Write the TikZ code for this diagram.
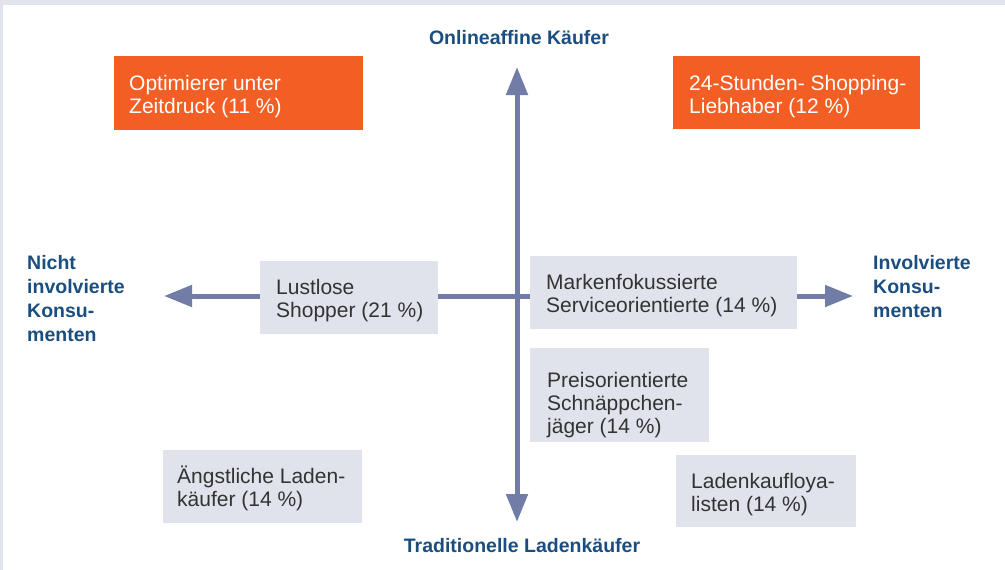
\documentclass[tikz,border=0pt]{standalone}
\usepackage{fontspec}
\setmainfont{Liberation Sans}
\usetikzlibrary{arrows.meta}
\definecolor{orng}{HTML}{F25E24}
\definecolor{boxgray}{HTML}{E0E3EB}
\definecolor{axiscol}{HTML}{717DA6}
\definecolor{lblue}{HTML}{1B4E80}
\definecolor{framegray}{HTML}{E1E4EC}
\definecolor{txtgray}{HTML}{333333}
\newcommand{\fl}{\rule{0pt}{20pt}}
\begin{document}
\begin{tikzpicture}[x=1pt,y=-1pt,
  axisline/.style={draw=axiscol, line width=5pt,
    {Triangle[length=28pt,width=21pt]}-{Triangle[length=28pt,width=21pt]}},
  segbox/.style={rectangle, draw=none, inner sep=0pt},
  graybox/.style={segbox, fill=boxgray},
  orangebox/.style={segbox, fill=orng},
  segtext/.style={anchor=north west, inner sep=0pt, align=left,
    font=\fontsize{21}{23}\selectfont},
  darktext/.style={segtext, text=txtgray},
  lighttext/.style={segtext, text=white},
  axislabel/.style={inner sep=0pt, text=lblue, font=\fontsize{19.5}{24}\selectfont\bfseries},
  sidelabel/.style={axislabel, anchor=north west, align=left}]
% canvas
\fill[framegray] (0,0) rectangle (1005,570);
\fill[white] (3,5) rectangle (1005,570);
\useasboundingbox (0,0) rectangle (1005,570);
% axes
\coordinate (north) at (517,67);
\coordinate (south) at (517,522);
\coordinate (west) at (164,296);
\coordinate (east) at (853,296);
\draw[axisline] (south) -- (north);
\draw[axisline] (west) -- (east);
% axis labels
\node[axislabel, anchor=base] (online) at (519,44) {Onlineaffine Käufer};
\node[axislabel, anchor=base] (trad) at (522,552) {Traditionelle Ladenkäufer};
\node[sidelabel] (nicht) at (27,249) {\fl Nicht\\involvierte\\Konsu-\\menten};
\node[sidelabel] (invol) at (873,249) {\fl Involvierte\\Konsu-\\menten};
% boxes
\node[orangebox, minimum width=249pt, minimum height=74pt] (opt) at (238.5,93) {};
\node[lighttext] (optT) at (129,70) {\fl Optimierer unter\\Zeitdruck (11 \%)};
\node[orangebox, minimum width=247pt, minimum height=73pt] (stu) at (796.5,92.5) {};
\node[lighttext] (stuT) at (689,70) {\fl 24-Stunden- Shopping-\\Liebhaber (12 \%)};
\node[graybox, minimum width=178pt, minimum height=73pt] (lust) at (349,297.5) {};
\node[darktext] (lustT) at (276,274) {\fl Lustlose\\Shopper (21 \%)};
\node[graybox, minimum width=267pt, minimum height=73pt] (mark) at (663.5,292.5) {};
\node[darktext] (markT) at (546,269) {\fl Markenfokussierte\\Serviceorientierte (14 \%)};
\node[graybox, minimum width=179pt, minimum height=94pt] (preis) at (619.5,395) {};
\node[darktext] (preisT) at (547,367) {\fl Preisorientierte\\Schnäppchen-\\jäger (14 \%)};
\node[graybox, minimum width=199pt, minimum height=73pt] (angst) at (262.5,486.5) {};
\node[darktext] (angstT) at (177,463) {\fl Ängstliche Laden-\\käufer (14 \%)};
\node[graybox, minimum width=180pt, minimum height=72pt] (laden) at (766,491) {};
\node[darktext] (ladenT) at (691,468) {\fl Ladenkaufloya-\\listen (14 \%)};
\end{tikzpicture}
\end{document}
